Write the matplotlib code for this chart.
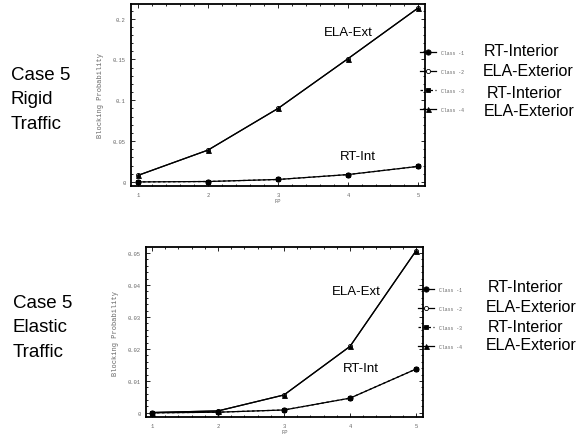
import numpy as np
import matplotlib.pyplot as plt
from matplotlib.ticker import AutoMinorLocator, FuncFormatter

W, H = 583, 439

# x positions (FP)
fp = [1, 2, 3, 4, 5]

# Case 5, rigid traffic
rigid_class1 = [0.0, 0.0005, 0.003, 0.009, 0.019]     # RT-Interior
rigid_class2 = [0.008, 0.039, 0.090, 0.151, 0.213]    # ELA-Exterior
rigid_class3 = [0.0, 0.0005, 0.003, 0.009, 0.019]     # RT-Interior
rigid_class4 = [0.008, 0.039, 0.090, 0.151, 0.213]    # ELA-Exterior

# Case 5, elastic traffic
elastic_class1 = [0.0, 0.0002, 0.0009, 0.0046, 0.0137]
elastic_class2 = [0.0001, 0.0006, 0.0056, 0.0208, 0.0507]
elastic_class3 = [0.0, 0.0002, 0.0009, 0.0046, 0.0137]
elastic_class4 = [0.0001, 0.0006, 0.0056, 0.0208, 0.0507]

class_names = ["Class -1", "Class -2", "Class -3", "Class -4"]
class_labels = ["RT-Interior", "ELA-Exterior", "RT-Interior", "ELA-Exterior"]
rigid_yticks = [0, 0.05, 0.1, 0.15, 0.2]
elastic_yticks = [0, 0.01, 0.02, 0.03, 0.04, 0.05]

styles = [
    dict(marker='o', ls='-', mfc='k', ms=3.8, zorder=5),
    dict(marker='o', ls='-', mfc='w', ms=3.0, zorder=3),
    dict(marker='s', ls=(0, (2, 2)), mfc='k', ms=2.8, zorder=4),
    dict(marker='^', ls='-', mfc='k', ms=3.6, zorder=4),
]

mono = 'Liberation Mono'
sans = 'Liberation Sans'
grey = '#666666'


def fmt(v, pos):
    return '0' if v == 0 else ('%g' % v)


def px(x, y):
    return x / W, 1 - y / H


def draw(ax, series, yticks, xlim, ylim, leg_anchor):
    for vals, st in zip(series, styles):
        ax.plot(fp, vals, color='k', lw=0.9, mec='k', mew=0.6, **st)
    ax.set_xlim(*xlim)
    ax.set_ylim(*ylim)
    ax.set_xticks(fp)
    ax.set_yticks(yticks)
    ax.yaxis.set_major_formatter(FuncFormatter(fmt))
    ax.xaxis.set_minor_locator(AutoMinorLocator(5))
    ax.yaxis.set_minor_locator(AutoMinorLocator(5))
    ax.tick_params(which='both', direction='in', top=True, right=True,
                   labelsize=4, labelcolor=grey, width=0.6, color='k')
    ax.tick_params(which='major', length=3, pad=4)
    ax.tick_params(which='minor', length=1.6)
    for lab in ax.get_xticklabels() + ax.get_yticklabels():
        lab.set_family(mono)
    for s in ax.spines.values():
        s.set_linewidth(1.3)
    ax.set_xlabel('FP', fontsize=4, family=mono, color=grey, labelpad=1)
    ax.set_ylabel('Blocking Probability', fontsize=5, family=mono,
                  color=grey, labelpad=6)
    handles = ax.get_lines()
    leg = ax.legend(handles, class_names, loc='upper left',
                    bbox_to_anchor=leg_anchor, bbox_transform=ax.figure.transFigure,
                    frameon=False, fontsize=3.5, handlelength=3.3,
                    handletextpad=1.0, labelspacing=2.85, borderpad=0,
                    borderaxespad=0)
    for t in leg.get_texts():
        t.set_family(mono)
        t.set_color(grey)


fig = plt.figure(figsize=(W / 100, H / 100), dpi=100)

ax1 = fig.add_axes([131 / W, 1 - 187 / H, 294 / W, 182 / H])
draw(ax1, [rigid_class1, rigid_class2, rigid_class3, rigid_class4],
     rigid_yticks, (0.9, 5.1), (-0.005, 0.218), px(420, 51))
ax1.text(4.0, 0.184, 'ELA-Ext', fontsize=9.5, family=sans, ha='center', va='center')
ax1.text(4.14, 0.0315, 'RT-Int', fontsize=9.5, family=sans, ha='center', va='center')

ax2 = fig.add_axes([146 / W, 1 - 418 / H, 277 / W, 170 / H])
draw(ax2, [elastic_class1, elastic_class2, elastic_class3, elastic_class4],
     elastic_yticks, (0.909, 5.106), (-0.0013, 0.0519), px(418, 288))
ax2.text(4.09, 0.0381, 'ELA-Ext', fontsize=9.5, family=sans, ha='center', va='center')
ax2.text(4.17, 0.014, 'RT-Int', fontsize=9.5, family=sans, ha='center', va='center')

# slide captions
fig.text(*px(11, 100), 'Case 5\nRigid\nTraffic', fontsize=13.5, family=sans,
         ha='left', va='center', linespacing=1.6)
fig.text(*px(13, 328), 'Case 5\nElastic\nTraffic', fontsize=13.5, family=sans,
         ha='left', va='center', linespacing=1.6)

top_rows = [(484, 51), (483, 72), (487, 93), (484, 111)]
bottom_rows = [(488, 287), (486, 308), (488, 328), (486, 346)]
for rows in (top_rows, bottom_rows):
    for (x, y), lab in zip(rows, class_labels):
        fig.text(*px(x, y), lab, fontsize=11.5, family=sans, ha='left', va='center')

fig.savefig('out.png', dpi=100)
